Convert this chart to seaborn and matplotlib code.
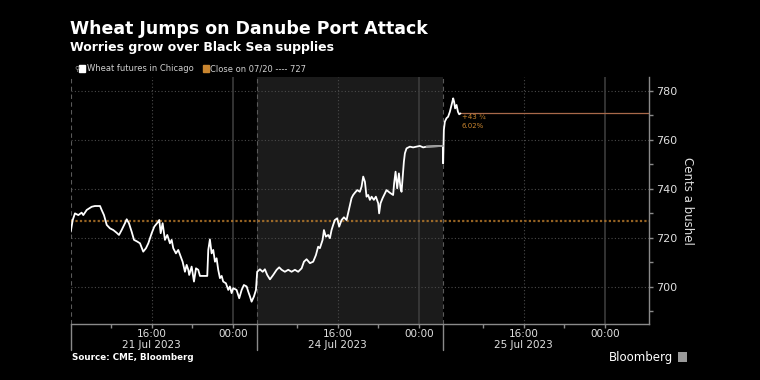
import matplotlib
matplotlib.use("Agg")
import matplotlib.pyplot as plt
import seaborn as sns
import pandas as pd
from matplotlib.transforms import blended_transform_factory
from matplotlib.patches import Rectangle

# ---------------- data ----------------
# trading-time axis: hours since 21 Jul 08:00 (HKT), each session 18h20m (08:00 -> 02:20)
hours = [0.0, 0.2, 0.42, 0.75, 1.08, 1.24, 1.58, 2.07, 2.39, 2.89, 3.05, 3.28, 3.55, 3.87, 4.2, 4.53,
         4.76, 5.02, 5.35, 5.52, 5.74, 6.01, 6.24, 6.56, 6.83, 7.15, 7.42, 7.65, 7.98, 8.24, 8.63, 8.73,
         8.87, 9.06, 9.29, 9.52, 9.78, 9.95, 10.11, 10.37, 10.6, 10.84, 11.03, 11.26, 11.43, 11.59, 11.68,
         11.92, 12.15, 12.35, 12.57, 12.74, 13.46, 13.56, 13.72, 13.89, 14.05, 14.22, 14.38, 14.54, 14.71,
         14.88, 15.03, 15.3, 15.53, 15.69, 15.86, 16.02, 16.35, 16.61, 16.85, 17.07, 17.34, 17.5, 17.67,
         17.83, 18.06, 18.26,
         18.38, 18.65, 18.92, 19.14, 19.37, 19.64, 19.96, 20.3, 20.55, 20.79, 21.11, 21.44, 21.77, 22.1,
         22.42, 22.76, 22.99, 23.25, 23.58, 23.9, 24.17, 24.39, 24.56, 24.83, 24.96, 25.15, 25.38, 25.55,
         25.71, 25.87, 26.04, 26.27, 26.46, 26.7, 26.93, 27.19, 27.45, 27.68, 27.84, 28.01, 28.24, 28.5,
         28.67, 28.83, 29.0, 29.16, 29.32, 29.49, 29.66, 29.88, 30.08, 30.31, 30.4, 30.54, 30.74, 30.97,
         31.13, 31.46, 31.78, 31.88, 32.02, 32.18, 32.35, 32.51, 32.61, 32.77, 32.84, 32.94, 33.1, 33.43,
         33.75, 34.09, 34.41, 34.74, 35.07, 36.68,
         36.71, 36.78, 36.88, 37.04, 37.2, 37.37, 37.54, 37.7, 37.79, 37.89, 38.03, 38.17, 38.29, 38.42]
price = [722.5, 727.3, 730.0, 729.3, 730.3, 729.3, 731.4, 732.7, 733.0, 733.0, 731.4, 729.3, 725.3,
         723.9, 723.2, 722.1, 721.2, 723.2, 726.0, 727.6, 726.0, 722.5, 719.2, 718.5, 717.8, 714.4,
         715.8, 717.8, 721.9, 724.6, 726.6, 727.3, 721.9, 726.0, 719.2, 721.2, 717.8, 719.2, 715.8,
         713.7, 715.1, 712.4, 710.3, 706.2, 709.0, 707.0, 704.9, 708.3, 702.2, 707.6, 707.0, 704.5,
         704.5, 715.1, 719.4, 713.7, 715.1, 710.3, 711.7, 707.0, 703.6, 704.5, 702.2, 701.5, 698.8,
         700.2, 697.5, 699.5, 698.8, 695.4, 698.8, 700.8, 700.2, 698.1, 696.1, 694.0, 696.1, 698.8,
         706.2, 707.2, 706.2, 707.2, 704.9, 703.1, 704.9, 707.0, 708.0, 707.0, 706.2, 707.0, 706.2,
         707.0, 706.2, 707.6, 710.3, 711.3, 709.7, 710.3, 713.0, 716.4, 715.8, 719.2, 723.2, 720.5,
         721.2, 719.9, 723.2, 725.3, 727.3, 728.0, 724.6, 727.3, 728.4, 727.3, 732.1, 736.2, 737.5,
         738.4, 739.5, 738.8, 740.9, 745.0, 742.9, 736.8, 737.5, 735.5, 736.8, 735.5, 736.8, 734.1,
         730.0, 734.1, 736.2, 738.2, 739.5, 738.4, 737.5, 742.3, 747.0, 740.2, 746.3, 740.2, 738.8,
         747.0, 751.1, 754.5, 756.5, 757.2, 756.9, 757.2, 757.5, 756.9, 757.2, 757.5,
         750.4, 764.0, 767.4, 768.8, 769.4, 771.4, 774.2, 776.9, 775.5, 772.8, 774.2, 771.4, 770.4, 770.75]

close_0720 = 727
last_price = 770.75
change_label = "+43 ¾"
change_pct = "6.02%"

session_dates = ["21 Jul 2023", "24 Jul 2023", "25 Jul 2023"]
session_start = [0.0, 18.333, 36.667]
major_offsets = [8, 16]          # 16:00, 00:00
major_names = ["16:00", "00:00"]
minor_offsets = [4, 12]          # 12:00, 20:00
x_end = 57.0

y_major = [700, 720, 740, 760, 780]
y_minor = [690, 710, 730, 750, 770]
y_lim = (684.9, 785.6)

title = "Wheat Jumps on Danube Port Attack"
subtitle = "Worries grow over Black Sea supplies"
legend_names = ["Wheat futures in Chicago", "Close on 07/20 ---- 727"]
y_label = "Cents a bushel"
source = "Source: CME, Bloomberg"

# ---------------- style ----------------
sns.set_theme(style="dark")
plt.rcParams.update({
    "font.family": ["DejaVu Sans"],
    "figure.facecolor": "black",
    "axes.facecolor": "black",
    "savefig.facecolor": "black",
    "text.color": "white",
})

W, H = 760, 380
fig = plt.figure(figsize=(W / 100, H / 100), dpi=100)


def fx(x):
    return x / W


def fy(y):
    return 1 - y / H


ax_l, ax_r, ax_t, ax_b = 70.7, 649, 77, 324
ax = fig.add_axes([fx(ax_l), fy(ax_b), (ax_r - ax_l) / W, (ax_b - ax_t) / H])
ax.set_facecolor("black")

ORANGE = "#c9852f"
GRID = "#4a4a4a"

# shaded session (24 Jul)
ax.axvspan(session_start[1], session_start[2], color="#1b1b1b", zorder=0, lw=0)

# horizontal grid
for v in y_major:
    ax.axhline(v, color=GRID, lw=0.8, ls=(0, (1, 2)), zorder=1)

# vertical grid
for s in session_start:
    ax.axvline(s, color="#5a5a5a", lw=0.8, ls=(0, (4, 3)), zorder=1)
    ax.axvline(s + major_offsets[0], color=GRID, lw=0.8, ls=(0, (1, 2)), zorder=1)
    ax.axvline(s + major_offsets[1], color="#3c3c3c", lw=1.2, zorder=1)

# reference close line
ax.axhline(close_0720, color=ORANGE, lw=1.6, ls=(0, (1, 1)), alpha=0.75, zorder=2)

# price line
df = pd.DataFrame({"hours": hours, "price": price})
sns.lineplot(data=df, x="hours", y="price", color="white", lw=1.3, sort=False,
             estimator=None, ax=ax, zorder=4)
# no-trade gap between sessions drawn in grey
gap = df.iloc[[hours.index(35.07), hours.index(36.68)]]
sns.lineplot(data=gap, x="hours", y="price", color="#9a9a9a", lw=1.3, sort=False,
             estimator=None, ax=ax, zorder=5)

# last price line
ax.plot([hours[-1], x_end], [last_price, last_price], color="#a8694a", lw=0.9, zorder=3)
ax.text(hours[-1] + 0.1, last_price - 1.2, change_label, color=ORANGE, fontsize=5,
        va="center", ha="left", zorder=5)
ax.text(hours[-1] + 0.1, last_price - 5.2, change_pct, color=ORANGE, fontsize=5,
        va="center", ha="left", zorder=5)

ax.set_xlim(0, x_end)
ax.set_ylim(*y_lim)

# spines
for sp in ["top", "left"]:
    ax.spines[sp].set_visible(False)
ax.spines["right"].set_color("#8a8a8a")
ax.spines["bottom"].set_color("#8a8a8a")
ax.spines["right"].set_linewidth(1.0)
ax.spines["bottom"].set_linewidth(1.0)

# y axis on the right
ax.yaxis.tick_right()
ax.yaxis.set_label_position("right")
ax.set_yticks(y_major)
ax.set_yticklabels([str(v) for v in y_major])
ax.set_yticks(y_minor, minor=True)
ax.tick_params(axis="y", which="both", right=True, left=False, direction="out",
               colors="#8a8a8a", labelcolor="#e0e0e0", labelsize=8, pad=2)
ax.tick_params(axis="y", which="major", length=3, width=1)
ax.tick_params(axis="y", which="minor", length=3, width=1)

# x axis
xt, xl = [], []
for s, d in zip(session_start, session_dates):
    xt += [s + major_offsets[0], s + major_offsets[1]]
    xl += [f"{major_names[0]}\n{d}", major_names[1]]
ax.set_xticks(xt)
ax.set_xticklabels(xl, linespacing=1.2, va="top")
ax.set_xticks([s + m for s in session_start for m in minor_offsets], minor=True)
ax.tick_params(axis="x", which="both", bottom=True, direction="out", colors="#8a8a8a",
               labelcolor="#e0e0e0", labelsize=7.5, length=3, width=1, pad=0.5)
ax.set_xlabel("")
ax.set_ylabel(y_label, color="#e0e0e0", fontsize=8.5, rotation=-90, labelpad=12)

# session separators extending below the axis
tr = blended_transform_factory(ax.transData, ax.transAxes)
for s in session_start:
    ax.plot([s, s], [0, -26 / (ax_b - ax_t)], transform=tr, color="#8a8a8a", lw=1,
            clip_on=False)

# ---------------- texts ----------------
fig.text(fx(70), fy(33.5), title, fontsize=12.5, fontweight="bold", color="white",
         va="baseline", ha="left")
fig.text(fx(70), fy(51), subtitle, fontsize=9, fontweight="bold", color="white",
         va="baseline", ha="left")

# legend
fig.text(fx(74), fy(68.5), "⚲", fontsize=5, color="#9a9a9a", va="center", ha="left")
fig.patches.append(Rectangle((fx(79), fy(71.5)), 6 / W, 6 / H, transform=fig.transFigure,
                             color="white", figure=fig))
fig.text(fx(87), fy(68.5), legend_names[0], fontsize=6, color="#d0d0d0", va="center", ha="left")
fig.patches.append(Rectangle((fx(203), fy(71.5)), 6 / W, 6 / H, transform=fig.transFigure,
                             color=ORANGE, figure=fig))
fig.text(fx(210), fy(68.5), legend_names[1], fontsize=6, color="#d0d0d0", va="center", ha="left")

fig.text(fx(72), fy(358), source, fontsize=6.3, fontweight="bold", color="white",
         va="center", ha="left")
fig.text(fx(673), fy(357), "Bloomberg", fontsize=8.5, color="white", va="center", ha="right",
         fontweight="medium")
fig.patches.append(Rectangle((fx(678), fy(362)), 9 / W, 10 / H, transform=fig.transFigure,
                             facecolor="#9a9a9a", edgecolor="none", figure=fig))

fig.savefig("out.png", dpi=100, facecolor="black")
